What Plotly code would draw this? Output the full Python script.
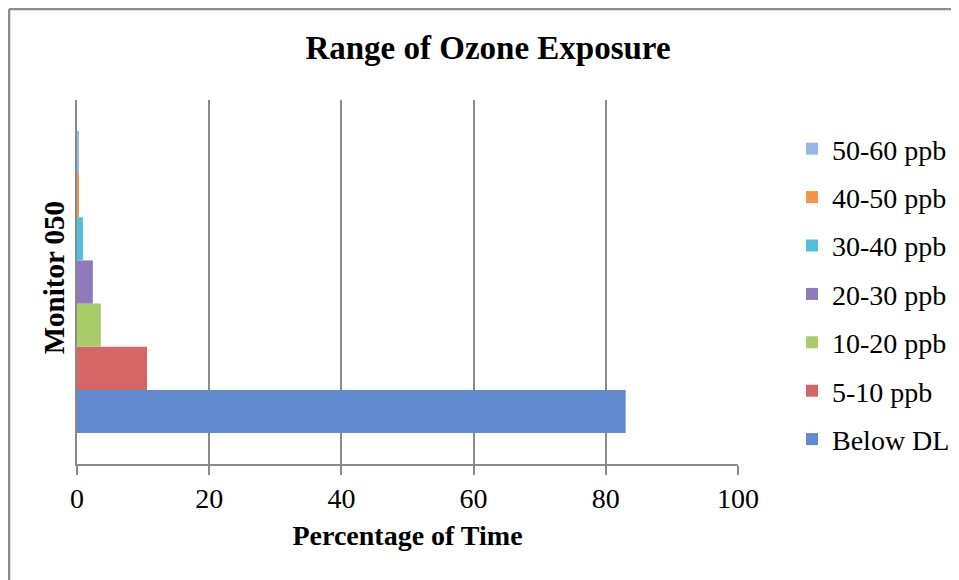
import plotly.graph_objects as go

categories = ["Monitor 050"]
series_names = ["Below DL", "5-10 ppb", "10-20 ppb", "20-30 ppb", "30-40 ppb", "40-50 ppb", "50-60 ppb"]
series_values = [83.0, 10.6, 3.6, 2.4, 0.9, 0.3, 0.2]
series_colors = ["#6089d0", "#d66565", "#aacb6a", "#8f7bbb", "#52bfdc", "#f59447", "#98b6ea"]
x_ticks = [0, 20, 40, 60, 80, 100]

FONT = "Liberation Serif"
OFF = 8  # page body margin
W, H = 959 - OFF, 580 - OFF
# plot area in page pixels: x 77..738, y 100..464
L, R = 77 - OFF, 959 - 738
T, B = 100 - OFF, 580 - 464
pw, ph = W - L - R, H - T - B


def px2paperx(p):
    return (p - OFF - L) / pw


def px2papery(p):
    return (H - B - (p - OFF)) / ph


fig = go.Figure()
n = len(series_names)
for i, (name, val, col) in enumerate(zip(series_names, series_values, series_colors)):
    fig.add_trace(go.Bar(
        y=categories, x=[val], name=name, orientation="h",
        marker=dict(color=col, line=dict(width=0)),
        legendgroup=name, legendrank=1000 + (n - i),
    ))

border = dict(color="#8c8c8c", width=2.5)
fig.add_shape(type="line", xref="paper", yref="paper",
              x0=px2paperx(9), x1=px2paperx(9), y0=px2papery(9), y1=px2papery(620), line=border)
fig.add_shape(type="line", xref="paper", yref="paper",
              x0=px2paperx(9), x1=px2paperx(990), y0=px2papery(9), y1=px2papery(9), line=border)

fig.update_layout(
    width=W, height=H,
    margin=dict(l=L, r=R, t=T, b=B, autoexpand=False),
    paper_bgcolor="white", plot_bgcolor="white",
    barmode="group", bargap=0.17, bargroupgap=0,
    font=dict(family=FONT, color="black"),
    title=dict(text="<b>Range of Ozone Exposure</b>", x=(488 - OFF) / W, xanchor="center",
               y=1 - (47 - OFF) / H, yanchor="middle", font=dict(size=33, family=FONT)),
    legend=dict(traceorder="grouped", x=px2paperx(792), xanchor="left",
                y=px2papery(124), yanchor="top", font=dict(size=28, family=FONT),
                tracegroupgap=9, bgcolor="rgba(0,0,0,0)"),
    showlegend=True,
)
fig.update_xaxes(
    range=[0, 100], tickvals=x_ticks, showgrid=True, gridcolor="#8a8a8a", gridwidth=1.5,
    showline=True, linecolor="#8a8a8a", linewidth=1.5, ticks="outside", ticklen=9,
    tickcolor="#8a8a8a", tickwidth=1.5, tickfont=dict(size=28, family=FONT),
    zeroline=False,
    title=dict(text="<b>Percentage of Time</b>", font=dict(size=28, family=FONT), standoff=12),
)
fig.update_yaxes(
    showgrid=False, showline=True, linecolor="#8a8a8a", linewidth=1.5,
    tickangle=-90, tickfont=dict(size=29, family=FONT, weight="bold"), ticks="",
)

fig.write_html("out.html")
